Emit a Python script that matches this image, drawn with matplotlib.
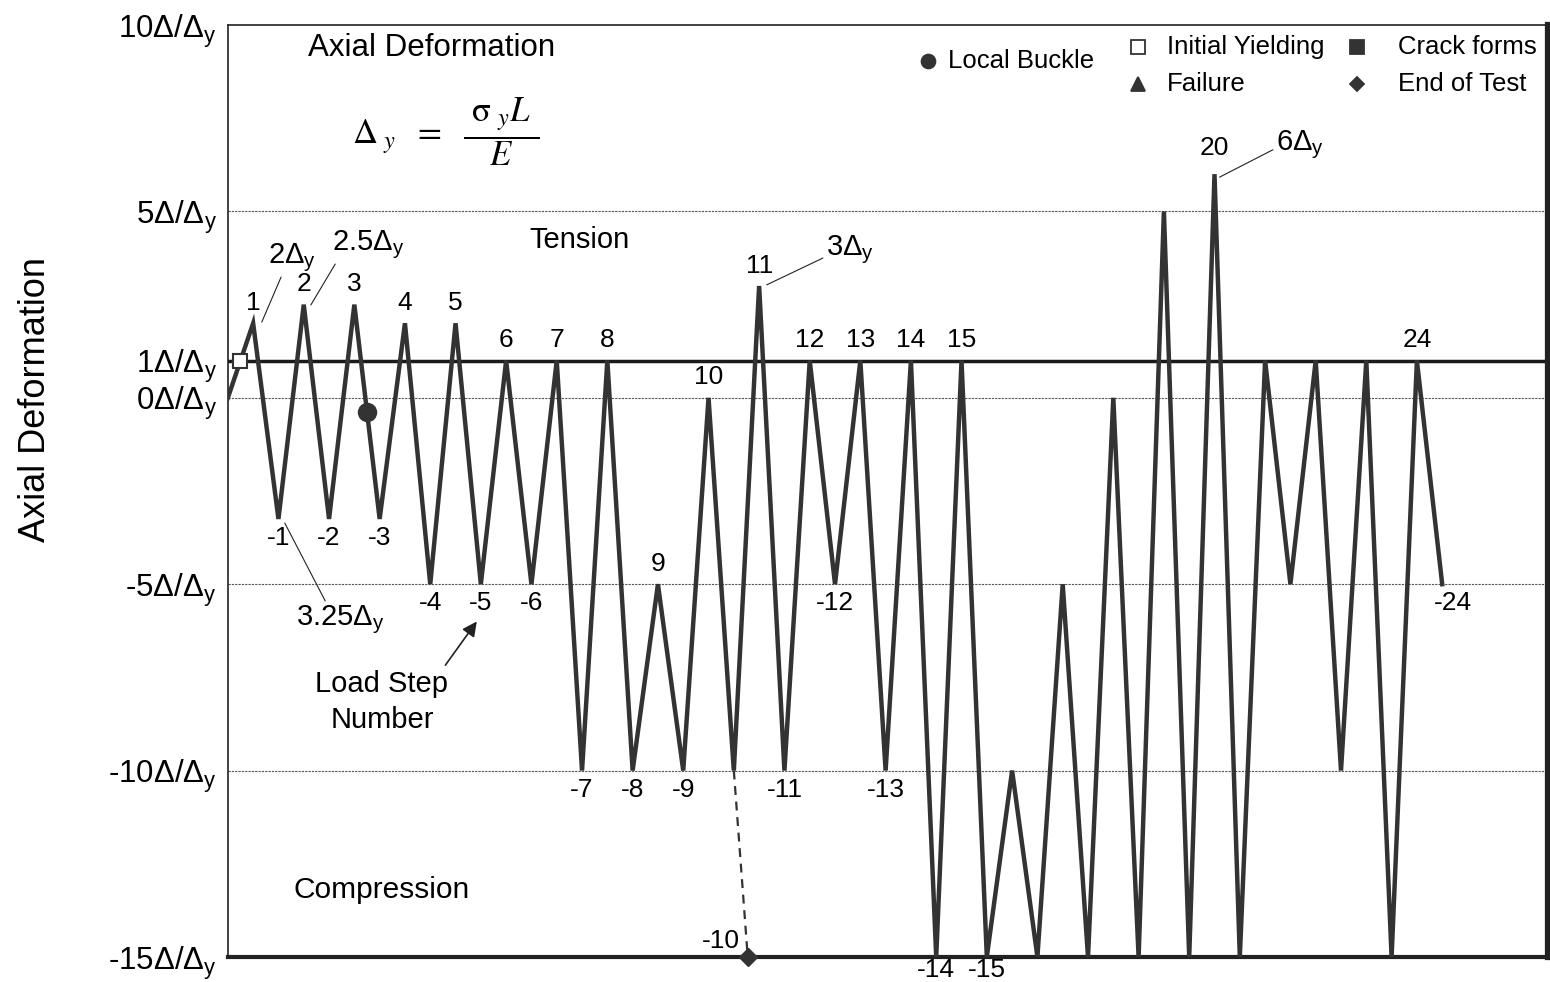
#!/usr/bin/env python3
"""
Axial deformation loading history - recreated chart
"""

import numpy as np
import matplotlib
matplotlib.use("Agg")
import matplotlib.pyplot as plt

plt.rcParams['font.family'] = ['Liberation Sans', 'DejaVu Sans']
plt.rcParams['mathtext.fontset'] = 'custom'
plt.rcParams['mathtext.rm'] = 'Liberation Sans'
plt.rcParams['mathtext.it'] = 'Liberation Sans:italic'

# Deformation history (units of delta_y), one value per half cycle
deformation = [0,
               2, -3.25, 2.5, -3.25, 2.5, -3.25, 2, -5, 2, -5,
               1, -5, 1, -10, 1, -10, -5, -10, 0, -10,
               3, -10, 1, -5, 1, -10, 1, -15, 1, -15,
               -10, -15, -5, -15, 0, -15, 5, -15, 6, -15,
               1, -5, 1, -10, 1, -15, 1, -5]
steps = np.arange(len(deformation))

# load steps that carry a number label
peak_labels = [1, 2, 3, 4, 5, 6, 7, 8, 9, 10, 11, 12, 13, 14, 15, 20, 24]
trough_labels = [1, 2, 3, 4, 5, 6, 7, 8, 9, 11, 12, 13, 14, 15, 24]

# events
yield_x, yield_y = [0.47], [1]
buckle_x, buckle_y = [5.5], [-0.375]
end_x, end_y = [20.55], [-15]

y_ticks = [-15, -10, -5, 0, 1, 5, 10]
y_ticklabels = ['%d' % v + r'$\Delta/\Delta_{\mathrm{y}}$' for v in y_ticks]

fig = plt.figure(figsize=(15.5, 9.82), dpi=100)
ax = fig.add_axes([0.147, 0.0255, 0.852, 0.949])

line_col = '#333333'
ax.plot(steps, deformation, color=line_col, lw=3.2, solid_joinstyle='miter', zorder=3)
# dashed drop to end of test
ax.plot([steps[20], end_x[0]], [deformation[20], end_y[0]], color=line_col,
        lw=1.6, ls=(0, (4, 3)), zorder=3)

ax.plot(yield_x, yield_y, marker='s', ms=10, mfc='white', mec=line_col, mew=1.5, ls='none', zorder=4)
ax.plot(buckle_x, buckle_y, marker='o', ms=13, color=line_col, ls='none', zorder=4)
ax.plot(end_x, end_y, marker='D', ms=9, color=line_col, ls='none', zorder=5, clip_on=False)

# reference lines
for v in [5, 0, -5, -10]:
    ax.axhline(v, color='#555555', lw=0.8, ls=(0, (2, 1)), zorder=1)
ax.axhline(1, color='#1a1a1a', lw=2.5, zorder=2)

ax.set_xlim(0, 52.2)
ax.set_ylim(-15, 10)
ax.set_xticks([])
ax.set_yticks(y_ticks)
ax.set_yticklabels(y_ticklabels, fontsize=22.5)
ax.tick_params(axis='y', length=0, pad=8)

for side, w in [('top', 1.2), ('left', 1.2), ('right', 4.5), ('bottom', 3)]:
    ax.spines[side].set_linewidth(w)
    ax.spines[side].set_color('#222222')

# step number labels
for k in peak_labels:
    i = 2 * k - 1
    dy = 10 if k == 20 else 6
    ax.annotate(str(k), (steps[i], deformation[i]), xytext=(0, dy),
                textcoords='offset points', ha='center', va='bottom', fontsize=19)
for k in trough_labels:
    i = 2 * k
    dx = 8 if k == 24 else 0
    dy = -1 if deformation[i] <= -15 else -5
    ax.annotate(str(-k), (steps[i], deformation[i]), xytext=(dx, dy),
                textcoords='offset points', ha='center', va='top', fontsize=19,
                annotation_clip=False)
ax.annotate('-10', (end_x[0], end_y[0]), xytext=(-6, 3), textcoords='offset points',
            ha='right', va='bottom', fontsize=19)

# amplitude callouts
lead = dict(arrowstyle='-', lw=0.8, color='#222222', shrinkA=0, shrinkB=0)
ax.annotate(r'$2\Delta_{\mathrm{y}}$', xy=(1.34, 2.03), xytext=(2.53, 3.75),
            ha='center', va='center', fontsize=21,
            arrowprops=dict(lead, relpos=(0.3, 0.0)))
ax.annotate(r'$2.5\Delta_{\mathrm{y}}$', xy=(3.28, 2.49), xytext=(5.53, 4.1),
            ha='center', va='center', fontsize=21,
            arrowprops=dict(lead, relpos=(0.1, 0.1)))
ax.annotate(r'$3.25\Delta_{\mathrm{y}}$', xy=(2.25, -3.36), xytext=(4.43, -5.96),
            ha='center', va='center', fontsize=21,
            arrowprops=dict(lead, relpos=(0.35, 1.0)))
ax.annotate(r'$3\Delta_{\mathrm{y}}$', xy=(21.3, 3.03), xytext=(24.58, 3.96),
            ha='center', va='center', fontsize=21,
            arrowprops=dict(lead, relpos=(0.0, 0.3)))
ax.annotate(r'$6\Delta_{\mathrm{y}}$', xy=(39.2, 5.92), xytext=(42.37, 6.78),
            ha='center', va='center', fontsize=21,
            arrowprops=dict(lead, relpos=(0.0, 0.4)))

ax.annotate('Load Step\nNumber', xy=(9.84, -6.0), xytext=(6.09, -8.16),
            ha='center', va='center', fontsize=21, linespacing=1.35,
            arrowprops=dict(arrowstyle='-|>', lw=1.2, color='#222222',
                            mutation_scale=22, relpos=(0.95, 1.0), shrinkA=2, shrinkB=0))

# region texts
ax.text(8.06, 9.38, 'Axial Deformation', ha='center', va='center', fontsize=22.5)
ax.text(8.6, 7.15,
        r'$\Delta_{\ y}\ \ =\ \ \dfrac{\ \mathrm{\sigma}_{\ y}L\ }{E}$',
        ha='center', va='center', fontsize=25, math_fontfamily='stix')
ax.text(13.9, 4.23, 'Tension', ha='center', va='center', fontsize=21)
ax.text(6.09, -13.2, 'Compression', ha='center', va='center', fontsize=21.5)

# legend drawn by hand
legend = [('o', line_col, 0.530, 0.961, 0.545, 'Local Buckle'),
          ('s', 'white', 0.689, 0.976, 0.711, 'Initial Yielding'),
          ('^', line_col, 0.689, 0.937, 0.711, 'Failure'),
          ('s', line_col, 0.855, 0.976, 0.886, 'Crack forms'),
          ('D', line_col, 0.855, 0.937, 0.886, 'End of Test')]
for mk, fc, mx, my, tx, lab in legend:
    ax.plot([mx], [my], marker=mk, ms=10 if mk != 'D' else 7.5, mfc=fc, mec=line_col, mew=1.3,
            ls='none', transform=ax.transAxes, clip_on=False)
    ax.text(tx, my, lab, transform=ax.transAxes, ha='left', va='center', fontsize=18.5)

fig.text(0.0226, 0.593, 'Axial Deformation', rotation=90, ha='center', va='center', fontsize=26)

fig.savefig('out.png', dpi=100)
plt.close(fig)
